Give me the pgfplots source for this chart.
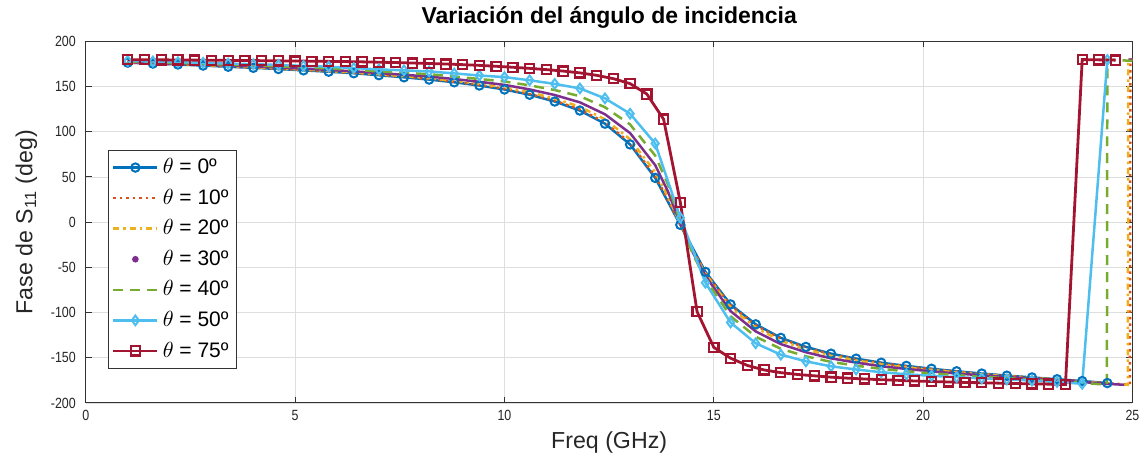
\documentclass[border=0pt]{standalone}
\usepackage{fontspec}
\setmainfont{Liberation Sans}
\newfontfamily\ticksfont[FakeStretch=0.84]{Liberation Sans}
\usepackage{pgfplots}
\pgfplotsset{compat=1.18}

\definecolor{c1}{rgb}{0,0.447,0.741}
\definecolor{c2}{rgb}{0.85,0.325,0.098}
\definecolor{c3}{rgb}{0.929,0.694,0.125}
\definecolor{c4}{rgb}{0.494,0.184,0.556}
\definecolor{c5}{rgb}{0.466,0.674,0.188}
\definecolor{c6}{rgb}{0.301,0.745,0.933}
\definecolor{c7}{rgb}{0.635,0.078,0.184}

\begin{document}
\begin{tikzpicture}
\begin{axis}[
  scale only axis,
  width=524pt, height=181pt,
  xmin=0, xmax=25, ymin=-200, ymax=200,
  xtick={0,5,...,25}, ytick={-200,-150,...,200},
  grid=major,
  major grid style={black!13, line width=0.4pt},
  axis line style={black!80, line width=0.5pt},
  tick style={black!80, line width=0.5pt},
  major tick length=3pt,
  tick align=inside,
  /pgf/number format/assume math mode=true,
  ticklabel style={font=\ticksfont\fontsize{7.4}{8}\selectfont, text=black!85},
  yticklabel style={xshift=-1.5pt},
  xlabel={Freq (GHz)},
  ylabel={Fase de S\textsubscript{11} (deg)},
  label style={font=\fontsize{11.6}{13}\selectfont, text=black!85},
  xlabel style={yshift=1pt},
  title={\bfseries Variación del ángulo de incidencia},
  title style={font=\fontsize{11.5}{13}\selectfont, yshift=-3pt},
  unbounded coords=jump,
  legend style={at={(0.0207,0.6997)}, anchor=north west,
    draw=black!80, line width=0.5pt, fill=white,
    font=\fontsize{10.5}{12}\selectfont,
    row sep=2.2pt, inner sep=2pt,
    cells={anchor=west}},
  legend image code/.code={%
    \draw[mark repeat=2,mark phase=2,#1]
      plot coordinates {(0pt,0pt) (11pt,0pt) (22pt,0pt)};},
]

% theta = 0
\addplot[c1, line width=1.25pt, mark=o, mark size=2.1pt,
  mark options={solid, line width=1pt}] coordinates {
(1.0,176.5) (1.6,175.5) (2.2,174.5) (2.8,173.3) (3.4,172.0) (4.0,170.8)
(4.6,169.5) (5.2,168.0) (5.8,166.5) (6.4,164.8) (7.0,162.6) (7.6,160.3)
(8.2,157.8) (8.8,154.8) (9.4,151.2) (10.0,146.8) (10.6,141.0) (11.2,133.5)
(11.8,123.5) (12.4,109.0) (13.0,86.0) (13.6,49.0) (14.2,-3.0) (14.8,-55.0)
(15.4,-91.0) (16.0,-113.0) (16.6,-128.0) (17.2,-138.0) (17.8,-145.5) (18.4,-151.0)
(19.0,-155.5) (19.6,-159.0) (20.2,-162.2) (20.8,-165.0) (21.4,-167.5) (22.0,-169.8)
(22.6,-171.8) (23.2,-173.8) (23.8,-175.8) (24.4,-178.0)};
\addlegendentry{$\theta$ = 0º}

% theta = 10
\addplot[c2, line width=1.25pt, dotted] coordinates {
(1.0,176.6) (1.6,175.6) (2.2,174.6) (2.8,173.5) (3.4,172.2) (4.0,171.0)
(4.6,169.7) (5.2,168.3) (5.8,166.8) (6.4,165.1) (7.0,162.9) (7.6,160.7)
(8.2,158.3) (8.8,155.3) (9.4,151.8) (10.0,147.5) (10.6,141.8) (11.2,134.5)
(11.8,124.7) (12.4,110.4) (13.0,87.7) (13.6,50.9) (13.9,25.4) (14.2,-2.8)
(14.5,-31.4) (14.8,-55.6) (15.4,-92.0) (16.0,-114.1) (16.6,-128.9) (17.2,-138.8)
(17.8,-146.2) (18.4,-151.6) (19.0,-156.0) (19.6,-159.5) (20.2,-162.6) (20.8,-165.3)
(21.4,-167.8) (22.0,-170.0) (22.6,-172.0) (23.2,-174.0) (23.8,-176.0) (24.4,-178.2)
(24.94,-179.9) (24.95,179.9) (25.0,179.8)};
\addlegendentry{$\theta$ = 10º}

% theta = 20
\addplot[c3, line width=1.25pt, dash dot] coordinates {
(1.0,176.8) (1.6,175.9) (2.2,174.9) (2.8,173.8) (3.4,172.6) (4.0,171.5)
(4.6,170.3) (5.2,168.9) (5.8,167.4) (6.4,165.8) (7.0,163.7) (7.6,161.6)
(8.2,159.3) (8.8,156.5) (9.4,153.1) (10.0,149.1) (10.6,143.7) (11.2,136.8)
(11.8,127.7) (12.4,113.8) (13.0,91.8) (13.6,55.5) (13.9,28.8) (14.2,-2.2)
(14.5,-32.2) (14.8,-57.0) (15.4,-94.4) (16.0,-116.6) (16.6,-131.2) (17.2,-140.7)
(17.8,-147.9) (18.4,-153.0) (19.0,-157.3) (19.6,-160.6) (20.2,-163.5) (20.8,-166.1)
(21.4,-168.4) (22.0,-170.5) (22.6,-172.4) (23.2,-174.3) (23.8,-176.3) (24.4,-178.5)
(24.89,-179.9) (24.9,179.9) (25.0,179.7)};
\addlegendentry{$\theta$ = 20º}

% theta = 30 (sampled points, no connecting segment across the wrap)
\addplot[c4, line width=1.25pt,
  legend image code/.code={\fill[c4] (11pt,0pt) circle (1pt);}] coordinates {
(1.0,177.2) (1.6,176.4) (2.2,175.4) (2.8,174.4) (3.4,173.3) (4.0,172.3)
(4.6,171.2) (5.2,169.9) (5.8,168.5) (6.4,166.9) (7.0,165.0) (7.6,163.1)
(8.2,161.1) (8.8,158.4) (9.4,155.3) (10.0,151.9) (10.6,146.9) (11.2,140.7)
(11.8,132.6) (12.4,119.4) (13.0,98.6) (13.6,63.1) (13.9,34.4) (14.2,-1.2)
(14.5,-33.6) (14.8,-59.4) (15.4,-98.4) (16.0,-120.8) (16.6,-134.9) (17.2,-143.9)
(17.8,-150.7) (18.4,-155.4) (19.0,-159.4) (19.6,-162.4) (20.2,-165.1) (20.8,-167.4)
(21.4,-169.5) (22.0,-171.4) (22.6,-173.1) (23.2,-174.9) (23.8,-176.9) (24.4,-178.9)
(24.8,-179.9) (24.85,nan) (24.9,179.9) (25.0,179.7)};
\addlegendentry{$\theta$ = 30º}

% theta = 40
\addplot[c5, line width=1.25pt, dash pattern=on 5pt off 3.5pt] coordinates {
(1.0,177.8) (1.6,177.0) (2.2,176.1) (2.8,175.3) (3.4,174.3) (4.0,173.4)
(4.6,172.4) (5.2,171.3) (5.8,170.1) (6.4,168.5) (7.0,166.8) (7.6,165.3)
(8.2,163.7) (8.8,161.2) (9.4,158.4) (10.0,155.7) (10.6,151.4) (11.2,146.2)
(11.8,139.4) (12.4,127.2) (13.0,108.1) (13.6,73.7) (13.9,42.2) (14.2,0.3)
(14.5,-35.6) (14.8,-62.8) (15.4,-104.0) (16.0,-126.7) (16.6,-140.1) (17.2,-148.4)
(17.8,-154.6) (18.4,-158.8) (19.0,-162.3) (19.6,-165.0) (20.2,-167.3) (20.8,-169.2)
(21.4,-171.0) (22.0,-172.5) (22.6,-174.1) (23.2,-175.8) (23.8,-177.8) (24.39,-179.9)
(24.4,179.9) (25.0,178.5)};
\addlegendentry{$\theta$ = 40º}

% theta = 50
\addplot[c6, line width=1.25pt, mark=diamond, mark size=2.4pt,
  mark options={solid, line width=1pt}] coordinates {
(1.0,178.5) (1.6,177.8) (2.2,177.0) (2.8,176.3) (3.4,175.5) (4.0,174.8)
(4.6,174.0) (5.2,173.0) (5.8,172.0) (6.4,170.5) (7.0,169.0) (7.6,168.0)
(8.2,166.8) (8.8,164.6) (9.4,162.3) (10.0,160.5) (10.6,157.0) (11.2,153.0)
(11.8,148.0) (12.4,137.0) (13.0,120.0) (13.6,87.0) (14.2,5.0) (14.8,-67.0)
(15.4,-111.0) (16.0,-134.0) (16.6,-146.6) (17.2,-154.0) (17.8,-159.5) (18.4,-163.0)
(19.0,-166.0) (19.6,-168.3) (20.2,-170.0) (20.8,-171.5) (21.4,-172.8) (22.0,-174.0)
(22.6,-175.3) (23.2,-176.8) (23.8,-178.8) (24.4,179.5)};
\addlegendentry{$\theta$ = 50º}

% theta = 75
\addplot[c7, line width=1.4pt, mark=square, mark size=2.3pt,
  mark options={solid, line width=1.1pt}] coordinates {
(1.0,179.8) (1.4,179.7) (1.8,179.6) (2.2,179.5) (2.6,179.3) (3.0,179.2)
(3.4,179.0) (3.8,178.9) (4.2,178.7) (4.6,178.5) (5.0,178.3) (5.4,178.1)
(5.8,177.9) (6.2,177.7) (6.6,177.4) (7.0,177.0) (7.4,176.6) (7.8,176.1)
(8.2,175.6) (8.6,175.0) (9.0,174.3) (9.4,173.5) (9.8,172.5) (10.2,171.4)
(10.6,170.2) (11.0,168.8) (11.4,167.2) (11.8,165.2) (12.2,162.5) (12.6,158.8)
(13.0,153.3) (13.4,141.8) (13.8,114.0) (14.2,22.0) (14.6,-99.0) (15.0,-138.5)
(15.4,-150.5) (15.8,-158.5) (16.2,-163.5) (16.6,-166.5) (17.0,-168.5) (17.4,-170.0)
(17.8,-171.5) (18.2,-172.6) (18.6,-173.5) (19.0,-174.3) (19.4,-175.0) (19.8,-175.7)
(20.2,-176.3) (20.6,-176.8) (21.0,-177.3) (21.4,-177.7) (21.8,-178.1) (22.2,-178.5)
(22.6,-178.9) (23.0,-179.2) (23.4,-179.6) (23.8,179.9) (24.2,179.6) (24.6,179.3)};
\addlegendentry{$\theta$ = 75º}

\end{axis}
% white margin to the left of the y label
\path (current bounding box.south west) ++(-4.5pt,-3pt);
\end{tikzpicture}
\end{document}
